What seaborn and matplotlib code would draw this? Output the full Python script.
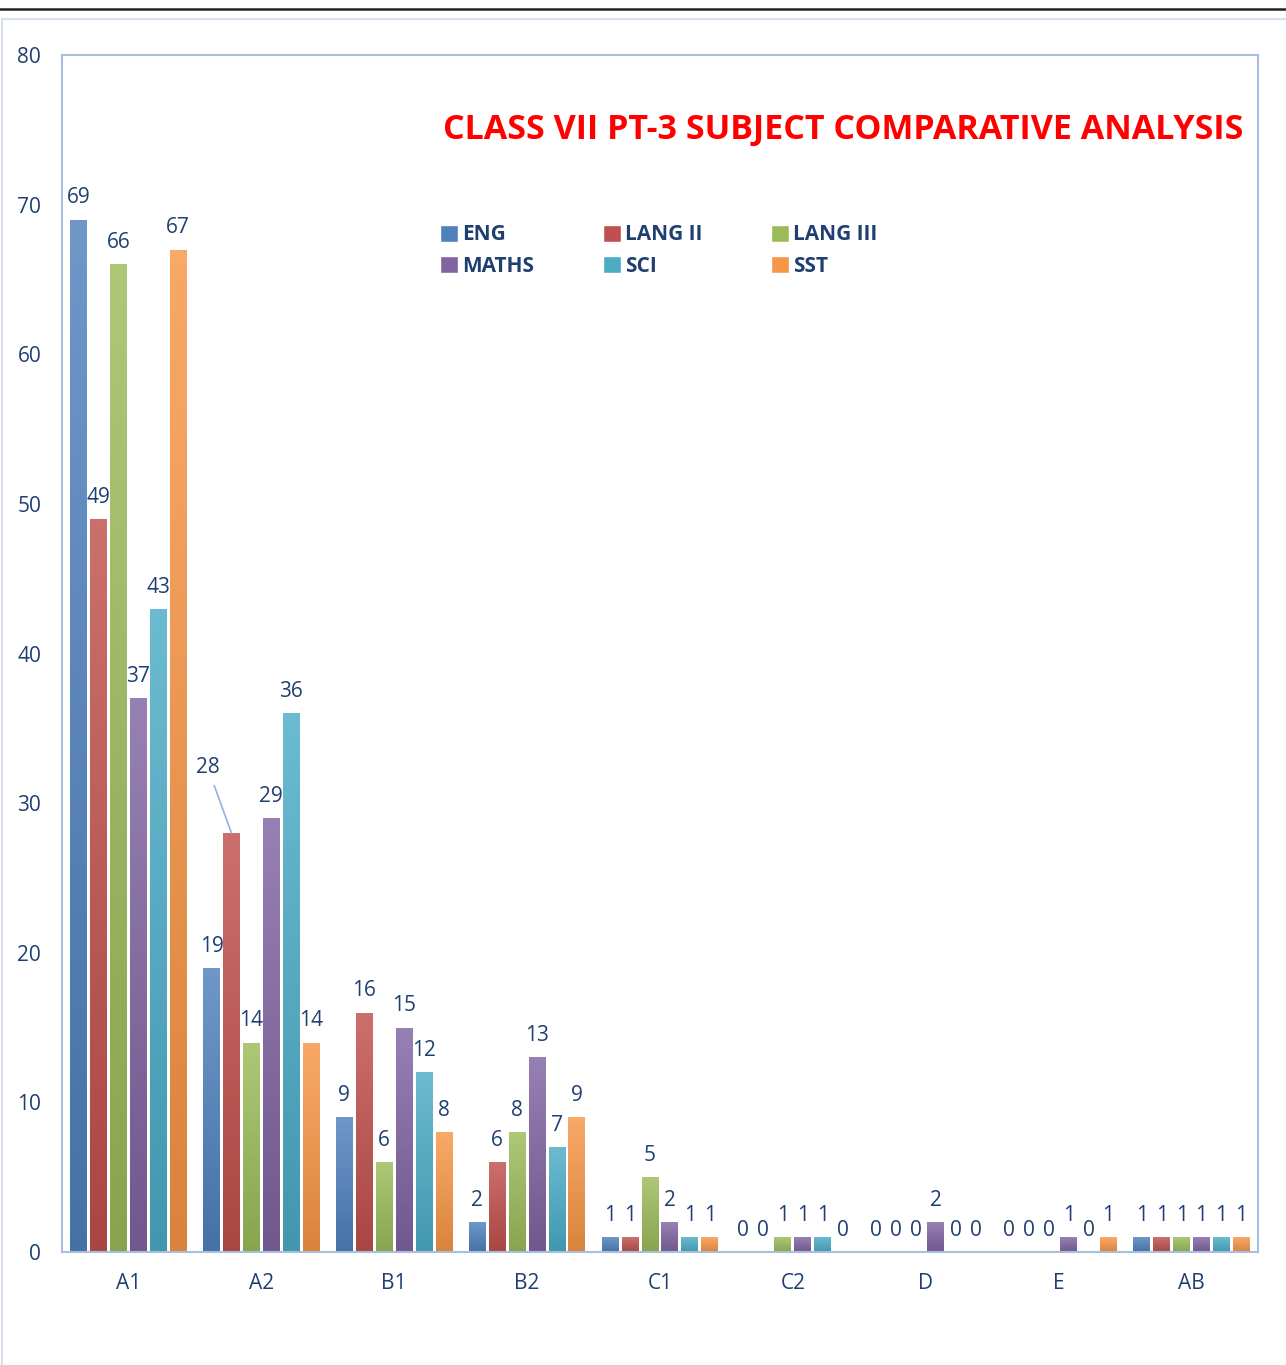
import matplotlib
matplotlib.use('Agg')
import matplotlib.pyplot as plt
import numpy as np
import pandas as pd
import seaborn as sns
from matplotlib.colors import to_rgb
from matplotlib.lines import Line2D
from matplotlib.patches import Rectangle

# chart data
grades = ['A1', 'A2', 'B1', 'B2', 'C1', 'C2', 'D', 'E', 'AB']
subjects = ['ENG', 'LANG II', 'LANG III', 'MATHS', 'SCI', 'SST']
eng = [69, 19, 9, 2, 1, 0, 0, 0, 1]
lang2 = [49, 28, 16, 6, 1, 0, 0, 0, 1]
lang3 = [66, 14, 6, 8, 5, 1, 0, 0, 1]
maths = [37, 29, 15, 13, 2, 1, 2, 1, 1]
sci = [43, 36, 12, 7, 1, 1, 0, 0, 1]
sst = [67, 14, 8, 9, 1, 0, 0, 1, 1]
y_ticks = [0, 10, 20, 30, 40, 50, 60, 70, 80]

colors = ['#4F81BD', '#C0504D', '#9BBB59', '#8064A2', '#4BACC6', '#F79646']
TEXT = '#1F3F70'
TITLE = 'CLASS VII PT-3 SUBJECT COMPARATIVE ANALYSIS'

sns.set_theme(style='white')
plt.rcParams['font.family'] = ['Open Sans', 'DejaVu Sans']

rows = []
for subj, vals in zip(subjects, [eng, lang2, lang3, maths, sci, sst]):
    for g, v in zip(grades, vals):
        rows.append({'grade': g, 'subject': subj, 'count': v})
df = pd.DataFrame(rows)

W, H = 1286, 1365
fig = plt.figure(figsize=(W / 100, H / 100), dpi=100)
ax = fig.add_axes([62 / W, 1 - 1252 / H, (1258 - 62) / W, (1252 - 55) / H])

sns.barplot(data=df, x='grade', y='count', hue='subject', order=grades,
            hue_order=subjects, palette=colors, width=0.9, gap=0.15,
            saturation=1, legend=False, ax=ax)

ax.set_ylim(0, 80)
ax.set_yticks(y_ticks)
ax.set_xlabel('')
ax.set_ylabel('')
ax.tick_params(axis='both', length=0, labelsize=15, labelcolor=TEXT)
ax.tick_params(axis='x', pad=15)
ax.tick_params(axis='y', pad=15)
for sp in ax.spines.values():
    sp.set_visible(True)
    sp.set_color('#A7BFDE')
    sp.set_linewidth(1.5)

# soft vertical gradient on bars, like the office style
for cont, col in zip(ax.containers, colors):
    c = np.array(to_rgb(col))
    top = c + (1 - c) * 0.18
    bot = c * 0.88
    grad = np.linspace(0, 1, 64)[:, None, None]
    img = top * (1 - grad) + bot * grad
    for p in cont.patches:
        if p.get_height() <= 0:
            continue
        x0, w, h = p.get_x(), p.get_width(), p.get_height()
        im = ax.imshow(img, extent=(x0, x0 + w, 0, h), aspect='auto',
                       origin='upper', zorder=p.get_zorder() + 0.1)
        im.set_clip_path(p)
ax.set_xlim(-0.5, len(grades) - 0.5)
ax.set_ylim(0, 80)

# value labels
for i, cont in enumerate(ax.containers):
    labels = [str(int(v)) for v in cont.datavalues]
    if i == 1:
        labels[1] = ''
    ax.bar_label(cont, labels=labels, padding=8, fontsize=15, color=TEXT)

# the 28 label sits off the bar with a leader line
p28 = ax.containers[1].patches[1]
ax.annotate('28', xy=(p28.get_x() + p28.get_width() / 2, p28.get_height()),
            xytext=(-17, 47), textcoords='offset points', ha='center',
            va='center', fontsize=15, color=TEXT,
            arrowprops=dict(arrowstyle='-', color='#8DB3E2', lw=1.2,
                            shrinkA=3, shrinkB=0))

fig.text(1243 / W, 1 - 130 / H, TITLE, ha='right', va='center',
         fontsize=24.5, fontweight='bold', color='#FF0000')

handles = [Rectangle((0, 0), 1, 1, facecolor=c) for c in colors]
order = [0, 3, 1, 4, 2, 5]
leg = fig.legend([handles[k] for k in order], [subjects[k] for k in order],
                 ncol=3, loc='upper left',
                 bbox_to_anchor=(430 / W, 1 - 214 / H), frameon=False,
                 handlelength=0.85, handleheight=0.85, handletextpad=0.2,
                 columnspacing=3.3, labelspacing=0.5, borderpad=0,
                 prop={'size': 15, 'weight': 'bold'})
for t in leg.get_texts():
    t.set_color(TEXT)

# outer frame and top rule
fig.add_artist(Rectangle((2 / W, -0.1), 1.2, 1.1 - 19 / H,
                         transform=fig.transFigure, fill=False,
                         edgecolor='#D6E0EE', lw=1.5))
fig.add_artist(Line2D([0, 1], [1 - 9 / H, 1 - 9 / H], transform=fig.transFigure,
                      color='#222222', lw=1.8))

fig.savefig('out.png', dpi=100)
